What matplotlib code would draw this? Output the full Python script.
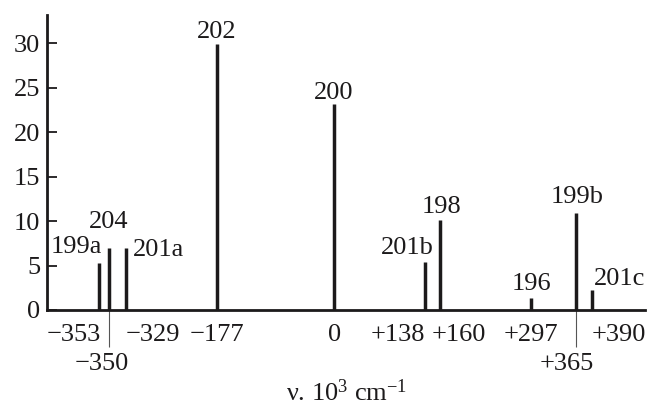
import numpy as np
import matplotlib
matplotlib.use("Agg")
import matplotlib.pyplot as plt

plt.rcParams["font.family"] = ["Liberation Serif", "DejaVu Serif"]
plt.rcParams["mathtext.fontset"] = "custom"
plt.rcParams["mathtext.rm"] = "Liberation Serif"
plt.rcParams["mathtext.it"] = "Liberation Serif:italic"

# Hg isotope lines: shift (10^3 cm^-1) and relative intensity
shifts = [-353, -350, -329, -177, 0, 138, 160, 297, 365, 390]
heights = [5.3, 7.0, 7.0, 29.9, 23.1, 5.4, 10.1, 1.3, 10.9, 2.2]
names = ["199a", "204", "201a", "202", "200", "201b", "198", "196", "199b", "201c"]
tick_text = ["\u2212353", "\u2212350", "\u2212329", "\u2212177", "0",
             "+138", "+160", "+297", "+365", "+390"]
low_ticks = [-350, 365]  # labels pushed to a second row

ink = "#1c1a1b"
fs = 19

# the axis is stretched a little around -353/-350 so the two lines do not merge
kv = np.array([-434, -354.5, -348.5, -177, 480])
ku = np.array([-434, -362, -333, -177, 480])
fwd = lambda x: np.interp(x, kv, ku)
inv = lambda u: np.interp(u, ku, kv)

fig = plt.figure(figsize=(6.47, 4.07), dpi=100)
ax = fig.add_axes([47 / 647, 97 / 407, 598 / 647, 295 / 407])
ax.set_xscale("function", functions=(fwd, inv))
ax.set_xlim(-434, 470)
ax.set_ylim(0, 33.15)

ax.vlines(shifts, 0, heights, color=ink, lw=2.5, capstyle="butt", zorder=3)

for s in ["top", "right"]:
    ax.spines[s].set_visible(False)
for s in ["left", "bottom"]:
    ax.spines[s].set_linewidth(2.0)
    ax.spines[s].set_color(ink)

ax.set_yticks([0, 5, 10, 15, 20, 25, 30])
ax.tick_params(axis="y", direction="in", length=7, width=1.3, color=ink,
               labelsize=fs, labelcolor=ink, pad=5)

# long thin marks under the two crowded lines
ax.set_xticks(low_ticks, ["", ""])
ax.tick_params(axis="x", direction="out", length=26.5, width=0.8, color="#555555")

# tick texts: (ha, dx in pt)
tick_fmt = {-353: ("right", 1), -350: ("center", -5), -329: ("left", 0),
            -177: ("center", 0), 0: ("center", 0), 138: ("right", 0),
            160: ("left", -6), 297: ("center", 0), 365: ("center", -6),
            390: ("left", 0)}
for s, t in zip(shifts, tick_text):
    ha, dx = tick_fmt[s]
    dy = -43 if s in low_ticks else -22.5
    ax.annotate(t, xy=(s, 0), xycoords=("data", "axes fraction"),
                xytext=(dx, dy), textcoords="offset points",
                ha=ha, va="baseline", fontsize=fs, color=ink,
                annotation_clip=False)

# line names: (ha, dx, dy) in pt
name_fmt = {"199a": ("right", 2, 7), "204": ("center", 0, 14),
            "201a": ("left", 5, -6), "202": ("center", 0, 4),
            "200": ("center", 0, 4), "201b": ("right", 6, 6),
            "198": ("center", 1, 5), "196": ("center", 1, 6),
            "199b": ("center", 1, 7), "201c": ("left", 1, 4)}
for s, h, n in zip(shifts, heights, names):
    ha, dx, dy = name_fmt[n]
    ax.annotate(n, xy=(s, h), xytext=(dx, dy), textcoords="offset points",
                ha=ha, va="baseline", fontsize=fs, color=ink)

fig.text(347 / 647, 1 - 401 / 407, "\u03bd. 10$^3$ cm$^{\u22121}$",
         ha="center", va="baseline", fontsize=fs, color=ink)

fig.savefig("out.png", dpi=100)
plt.close(fig)
